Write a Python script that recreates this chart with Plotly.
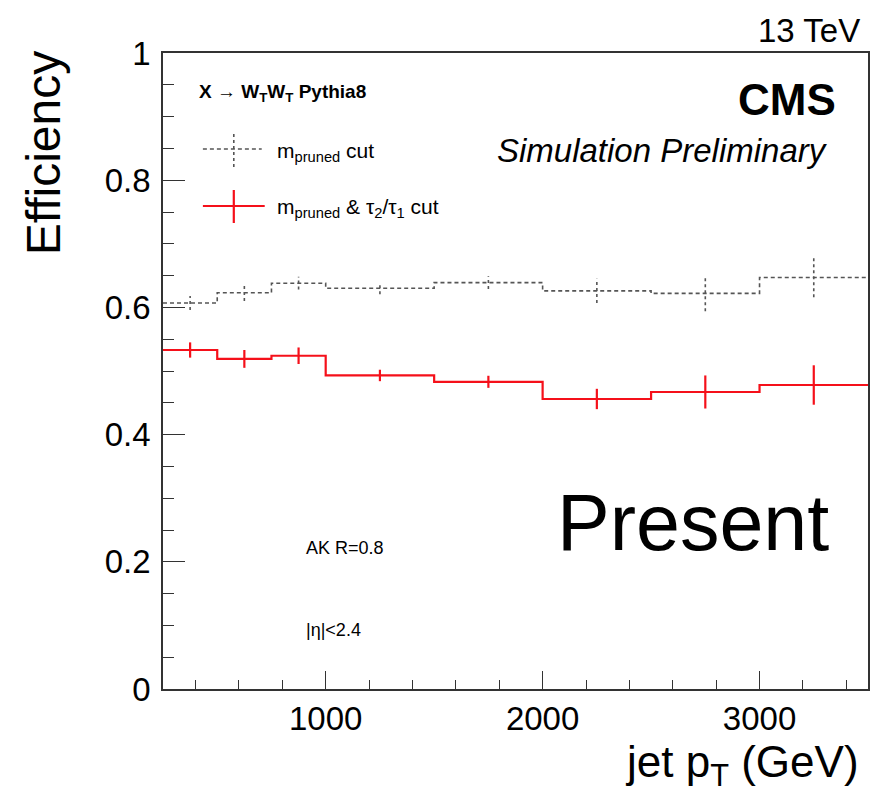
import plotly.graph_objects as go

# ---------------- data ----------------
bin_edges = [250, 500, 750, 1000, 1500, 2000, 2500, 3000, 3500]
eff_mpruned = [0.607, 0.623, 0.638, 0.630, 0.639, 0.626, 0.622, 0.647]
err_mpruned = [0.011, 0.013, 0.010, 0.0095, 0.010, 0.019, 0.028, 0.031]
eff_mpruned_tau = [0.533, 0.519, 0.524, 0.493, 0.483, 0.456, 0.467, 0.478]
err_mpruned_tau = [0.012, 0.014, 0.013, 0.009, 0.0095, 0.016, 0.026, 0.031]
x_tick_vals = [1000, 2000, 3000]
y_tick_vals = [0, 0.2, 0.4, 0.6, 0.8, 1.0]
y_tick_text = ["0", "0.2", "0.4", "0.6", "0.8", "1"]

centers = [(a + b) / 2 for a, b in zip(bin_edges[:-1], bin_edges[1:])]

# ---------------- layout geometry ----------------
W, H = 875, 802
L, R, T, B = 163, 870, 53, 689
PW, PH = R - L, B - T


def px(x):
    return (x - L) / PW


def py(y):
    return (B - y) / PH


FONT = "Liberation Sans, Arial, Helvetica, sans-serif"
RED = "#f5101a"
GRAY = "#555555"

fig = go.Figure()

# gray dashed step histogram
fig.add_trace(go.Scatter(
    x=bin_edges, y=eff_mpruned + [eff_mpruned[-1]],
    mode="lines", line=dict(shape="hv", color=GRAY, width=1.6, dash="4px,3px"),
    showlegend=False, hoverinfo="skip"))

# gray dotted error bars
ex, ey = [], []
for c, v, e in zip(centers, eff_mpruned, err_mpruned):
    ex += [c, c, None]
    ey += [v - e, v + e, None]
fig.add_trace(go.Scatter(
    x=ex, y=ey, mode="lines", line=dict(color=GRAY, width=1.6, dash="3px,3px"),
    showlegend=False, hoverinfo="skip"))

# red step histogram
fig.add_trace(go.Scatter(
    x=bin_edges, y=eff_mpruned_tau + [eff_mpruned_tau[-1]],
    mode="lines", line=dict(shape="hv", color=RED, width=2.2),
    showlegend=False, hoverinfo="skip"))

# red error bars
fig.add_trace(go.Scatter(
    x=centers, y=eff_mpruned_tau, mode="markers",
    marker=dict(size=1, color=RED),
    error_y=dict(type="data", array=err_mpruned_tau, width=0, thickness=2.2, color=RED),
    showlegend=False, hoverinfo="skip"))

# ---------------- legend symbols (layout shapes) ----------------
shapes = [
    dict(type="line", xref="paper", yref="paper", x0=px(203), x1=px(262), y0=py(149), y1=py(149),
         line=dict(color=GRAY, width=1.6, dash="4px,3px")),
    dict(type="line", xref="paper", yref="paper", x0=px(234), x1=px(234), y0=py(134), y1=py(168),
         line=dict(color=GRAY, width=1.6, dash="3px,3px")),
    dict(type="line", xref="paper", yref="paper", x0=px(203), x1=px(265), y0=py(206), y1=py(206),
         line=dict(color=RED, width=2.2)),
    dict(type="line", xref="paper", yref="paper", x0=px(234), x1=px(234), y0=py(190), y1=py(223),
         line=dict(color=RED, width=2.2)),
]


def ann(text, x, y, size, xanchor="left", yanchor="middle", bold=False, italic=False):
    if bold:
        text = "<b>" + text + "</b>"
    if italic:
        text = "<i>" + text + "</i>"
    return dict(text=text, x=px(x), y=py(y), xref="paper", yref="paper",
                xanchor=xanchor, yanchor=yanchor, showarrow=False,
                font=dict(family=FONT, size=size, color="black"))


annotations = [
    ann("13 TeV", 864, 31, 33, xanchor="right"),
    ann("CMS", 840, 99, 44, xanchor="right", bold=True),
    ann("Simulation Preliminary", 832, 151, 33, xanchor="right", italic=True),
    ann("X \u2192 W<sub>T</sub>W<sub>T</sub> Pythia8", 197, 93, 19, bold=True),
    ann("m<sub>pruned</sub> cut", 275, 152, 21),
    ann("m<sub>pruned</sub> & \u03c4<sub>2</sub>/\u03c4<sub>1</sub> cut", 275, 208, 21),
    ann("AK R=0.8", 304, 548, 18),
    ann("|\u03b7|<2.4", 304, 630, 18),
    ann("Present", 695, 522, 79, xanchor="center"),
    ann("Efficiency", 44, 153, 48, xanchor="center", yanchor="middle"),
    ann("jet p<sub>T</sub> (GeV)", 863, 765, 44, xanchor="right"),
]
annotations[9]["textangle"] = -90

fig.update_layout(
    width=W, height=H,
    margin=dict(l=L, r=W - R, t=T, b=H - B, pad=0),
    paper_bgcolor="white", plot_bgcolor="white",
    shapes=shapes, annotations=annotations,
    showlegend=False,
    font=dict(family=FONT, color="black"),
)

fig.update_xaxes(
    range=[bin_edges[0], bin_edges[-1]],
    tickvals=x_tick_vals, ticktext=[str(v) for v in x_tick_vals],
    ticks="inside", ticklen=18, tickwidth=1.3, tickcolor="#333",
    minor=dict(ticks="inside", ticklen=9, dtick=200, tick0=0, tickcolor="#333", tickwidth=1.2),
    showline=True, linecolor="#333", linewidth=1.6, mirror=True,
    showgrid=False, zeroline=False,
    tickfont=dict(family=FONT, size=33, color="black"),
    ticklabelstandoff=0,
)
fig.update_yaxes(
    range=[0, 1],
    tickvals=y_tick_vals, ticktext=y_tick_text,
    ticks="inside", ticklen=22, tickwidth=1.3, tickcolor="#333",
    minor=dict(ticks="inside", ticklen=11, dtick=0.05, tick0=0, tickcolor="#333", tickwidth=1.2),
    showline=True, linecolor="#333", linewidth=1.6, mirror=True,
    showgrid=False, zeroline=False,
    tickfont=dict(family=FONT, size=33, color="black"),
    ticklabelstandoff=4,
)

fig.write_html("out.html")
